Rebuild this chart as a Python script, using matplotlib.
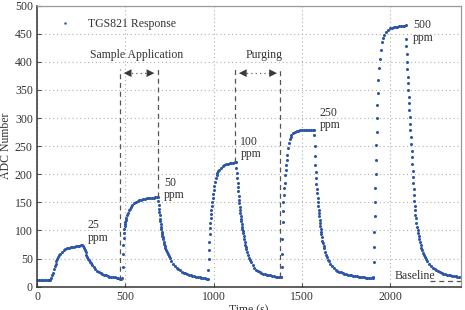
import numpy as np
import matplotlib
matplotlib.use('Agg')
import matplotlib.pyplot as plt

# readings of the TGS821 trace, split by gas pulse (time in s, ADC counts)
t_base = [0, 10, 20, 30, 40, 50, 60, 70, 76]
adc_base = [12, 12, 12, 12, 11.5, 11.5, 12, 12, 12]

t_25 = [80, 85, 90, 95, 100, 105, 110, 115, 120, 125, 130, 140, 150, 160, 170, 180, 190, 200, 210, 220, 230, 240, 250,
        255, 260, 265, 270, 275, 280, 285, 290, 295, 300, 305, 310, 320, 330, 340, 350, 360, 370, 380, 390, 400, 410,
        420, 430, 440, 450, 460, 470, 478]
adc_25 = [15, 20, 25, 31, 36, 41, 45, 49, 53, 56, 58, 62, 65, 67, 68.5, 69.5, 70.5, 71, 71.5, 72, 72.5, 73, 74,
          74, 72, 68.5, 65, 61, 57, 53.5, 50, 47, 44, 41.5, 39, 35, 31.5, 28.5, 26, 24, 22.5, 21, 20, 19, 18,
          17.5, 17, 16.5, 16, 15, 14.5, 14]

t_50 = [482, 484, 486, 488, 490, 492, 494, 496, 498, 500, 503, 506, 510, 515, 520, 525, 530, 540, 550, 560, 570, 580,
        590, 600, 610, 620, 630, 640, 650, 660, 670, 680, 684,
        686, 688, 690, 692, 694, 696, 698, 700, 702, 704, 706, 708, 710, 712, 715, 718, 721, 724, 727, 730, 735, 740,
        745, 750, 760, 770, 780, 790, 800, 810, 820, 830, 840, 850, 860, 870, 880, 890, 900, 910, 920, 930, 940, 950,
        960, 965]
adc_50 = [15, 35, 58, 75, 87, 96, 103, 108, 112, 115, 119, 123, 127, 132, 136, 139, 142, 146, 149, 151, 152.5, 154,
          155, 156, 156.5, 157, 157.5, 158, 158, 158.5, 159, 159.5, 160,
          152, 145, 139, 133, 127, 121, 116, 111, 106, 102, 98, 94, 91, 88, 84, 80, 76, 72.5, 69, 66, 62, 58,
          54.5, 51, 45.5, 41, 37.5, 34, 31, 29, 27, 25, 23.5, 22, 21, 20, 19.5, 19, 18, 17.5, 17, 16, 15.5, 15,
          14, 13.5]

t_100 = [967, 969, 971, 973, 975, 977, 979, 981, 983, 985, 987, 989, 991, 994, 997, 1000, 1004, 1008, 1012, 1016,
         1020, 1025, 1030, 1040, 1050, 1060, 1070, 1080, 1090, 1100, 1110, 1120, 1127,
         1129, 1131, 1133, 1135, 1137, 1139, 1141, 1143, 1145, 1147, 1149, 1151, 1153, 1155, 1157, 1159, 1161, 1163,
         1165, 1167, 1170, 1173, 1176, 1179, 1182, 1185, 1190, 1195, 1200, 1205, 1210, 1220, 1230, 1240, 1250, 1260,
         1270, 1280, 1290, 1300, 1310, 1320, 1330, 1340, 1350, 1360, 1370, 1380]
adc_100 = [14, 30, 50, 66, 80, 93, 104, 114, 122, 130, 137, 144, 150, 158, 165, 172, 180, 187, 193, 198,
           202, 205, 208, 211.5, 214, 216, 217.5, 218.5, 219.5, 220, 220.5, 221, 221,
           212, 202, 193, 185, 177, 170, 162, 155, 149, 142, 136, 131, 126, 121, 116, 111, 107, 103,
           99, 95, 90, 84, 79, 74.5, 70.5, 67, 61, 56, 51, 47.5, 44, 38.5, 34, 30.5, 28, 26,
           24.5, 23, 22, 21, 20.5, 20, 19, 18.5, 18, 17.5, 17, 16.5]

t_250 = [1383, 1385, 1387, 1389, 1391, 1393, 1395, 1397, 1399, 1401, 1404, 1407, 1410, 1413, 1416, 1420, 1425, 1430,
         1435, 1440, 1450, 1460, 1470, 1480, 1490, 1500, 1510, 1520, 1530, 1540, 1550, 1560, 1568,
         1570, 1572, 1574, 1576, 1578, 1580, 1582, 1584, 1586, 1588, 1590, 1592, 1594, 1596, 1598, 1600, 1602, 1604,
         1606, 1608, 1610, 1613, 1616, 1619, 1622, 1625, 1630, 1635, 1640, 1645, 1650, 1660, 1670, 1680, 1690, 1700,
         1710, 1720, 1730, 1740, 1750, 1760, 1770, 1780, 1790, 1800, 1810, 1820, 1830, 1840, 1850, 1860, 1870, 1880,
         1890, 1900]
adc_250 = [17, 35, 58, 85, 115, 135, 150, 163, 175, 185, 198, 208, 217, 226, 235, 246, 255, 262,
           267, 270, 273.5, 275.5, 277, 277.5, 278, 278, 278.5, 278.5, 279, 279, 279, 279, 279,
           270, 250, 232, 216, 204, 193, 183, 174, 166, 158, 151, 144, 137, 131, 125, 119, 113, 108,
           103, 98, 94, 88, 82, 77, 72, 68, 62, 57, 52, 48, 45, 40, 36, 33, 30.5, 28.5,
           27, 25.5, 24, 23, 22, 21, 20.5, 20, 19.5, 19, 18.5, 18, 17.5, 17, 16.5, 16, 16, 15.5,
           15, 15]

t_500 = [1903, 1905, 1907, 1909, 1911, 1913, 1915, 1917, 1919, 1921, 1923, 1925, 1927, 1929, 1932, 1935, 1939, 1945,
         1952, 1958, 1966, 1975, 1984, 2000, 2010, 2020, 2030, 2040, 2050, 2060, 2070, 2080, 2086,
         2088, 2090, 2092, 2094, 2096, 2098, 2100, 2102, 2104, 2106, 2108, 2110, 2112, 2114, 2116, 2118, 2120, 2122,
         2124, 2126, 2128, 2130, 2132, 2134, 2136, 2138, 2140, 2142, 2145, 2148, 2151, 2154, 2157, 2160, 2164, 2168,
         2172, 2176, 2180, 2185, 2190, 2195, 2200, 2210, 2220, 2230, 2240, 2250, 2260, 2270, 2280, 2290, 2300, 2310,
         2320, 2330, 2340, 2350, 2360, 2370, 2380, 2390, 2400]
adc_500 = [18, 44, 71, 98, 125, 150, 175, 200, 225, 252, 276, 300, 323, 344, 368, 389, 406, 421,
           436, 443, 448, 453, 457, 459.5, 460.5, 461.5, 462, 462.5, 463, 463.5, 464, 464.5, 465,
           440, 428, 414, 400, 387, 374, 362, 350, 338, 326, 314, 302, 290, 278, 266, 254, 242, 230,
           218, 206, 195, 184, 173, 163, 153, 144, 136, 128, 122, 114, 107, 101, 96, 91, 85, 79,
           74, 69, 65, 60.5, 56.5, 53, 50, 45, 40.5, 37, 34, 31.5, 29.5, 27.5, 26, 24.5, 23, 22,
           21, 20.5, 20, 19.5, 19, 18.5, 18, 17.5, 17]

time = np.array(t_base + t_25 + t_50 + t_100 + t_250 + t_500)
adc = np.array(adc_base + adc_25 + adc_50 + adc_100 + adc_250 + adc_500)

# concentration labels: text, x, y (centre of the two lines)
conc_labels = ['25\nppm', '50\nppm', '100\nppm', '250\nppm', '500\nppm']
conc_x = [288, 718, 1151, 1598, 2130]
conc_y = [98, 174, 247, 298, 454]

plt.rcParams['font.family'] = ['Liberation Serif', 'DejaVu Serif']
plt.rcParams['font.size'] = 8.5
txt = '#333333'

fig = plt.figure(figsize=(4.65, 3.1), dpi=100)
ax = fig.add_axes([0.0796, 0.0752, 0.9118, 0.9064])

ax.plot(time, adc, linestyle='none', marker='o', markersize=2.2, markeredgewidth=0,
        color='#2b56a9', label='TGS821 Response')

dash = dict(color='#555555', lw=0.9, dashes=(4, 3))
ax.plot([471, 471], [12, 388], **dash)
ax.plot([684, 684], [160, 388], **dash)
ax.plot([1123, 1123], [221, 388], **dash)
ax.plot([1378, 1378], [17, 388], **dash)
ax.plot([2225, 2400], [10, 10], **dash)

# double arrows: dotted shaft, filled heads touching the dashed lines
head = dict(arrowstyle='-|>,head_length=0.8,head_width=0.4', color='#3a3a3a', lw=0, mutation_scale=7)
for x0, x1 in [(471, 684), (1123, 1378)]:
    ax.plot([x0 + 40, x1 - 40], [380, 380], color='#666666', lw=0.9, linestyle=(0, (1, 2.5)))
    ax.annotate('', xy=(x0 + 4, 380), xytext=(x0 + 45, 380), arrowprops=head)
    ax.annotate('', xy=(x1 - 4, 380), xytext=(x1 - 45, 380), arrowprops=head)

ax.text(562, 413, 'Sample Application', ha='center', va='center', color=txt)
ax.text(1287, 413, 'Purging', ha='center', va='center', color=txt)
ax.text(2022, 19, 'Baseline', ha='left', va='center', color=txt)
for lab, x, y in zip(conc_labels, conc_x, conc_y):
    ax.text(x, y, lab, ha='left', va='center', color=txt, linespacing=1.05)

ax.set_xlim(0, 2400)
ax.set_ylim(0, 500)
ax.set_xticks([0, 500, 1000, 1500, 2000])
ax.set_yticks(np.arange(0, 501, 50))
ax.grid(True, color='#b0b0b0', lw=0.8, linestyle=(0, (1, 2.5)))
ax.tick_params(direction='in', length=3, colors='#555555', labelcolor=txt, pad=3)
for s in ['left', 'bottom']:
    ax.spines[s].set_color('#333333')
    ax.spines[s].set_linewidth(1.1)
for s in ['top', 'right']:
    ax.spines[s].set_color('#999999')
    ax.spines[s].set_linewidth(0.9)

ax.set_xlabel('Time (s)', color=txt, labelpad=1)
ax.set_ylabel('ADC Number', color=txt, labelpad=2)
ax.legend(loc='upper left', bbox_to_anchor=(0.02, 0.995), frameon=False, markerscale=0.8,
          handlelength=1.5, handletextpad=1.2, labelcolor=txt)

fig.savefig('out.png', dpi=100)
